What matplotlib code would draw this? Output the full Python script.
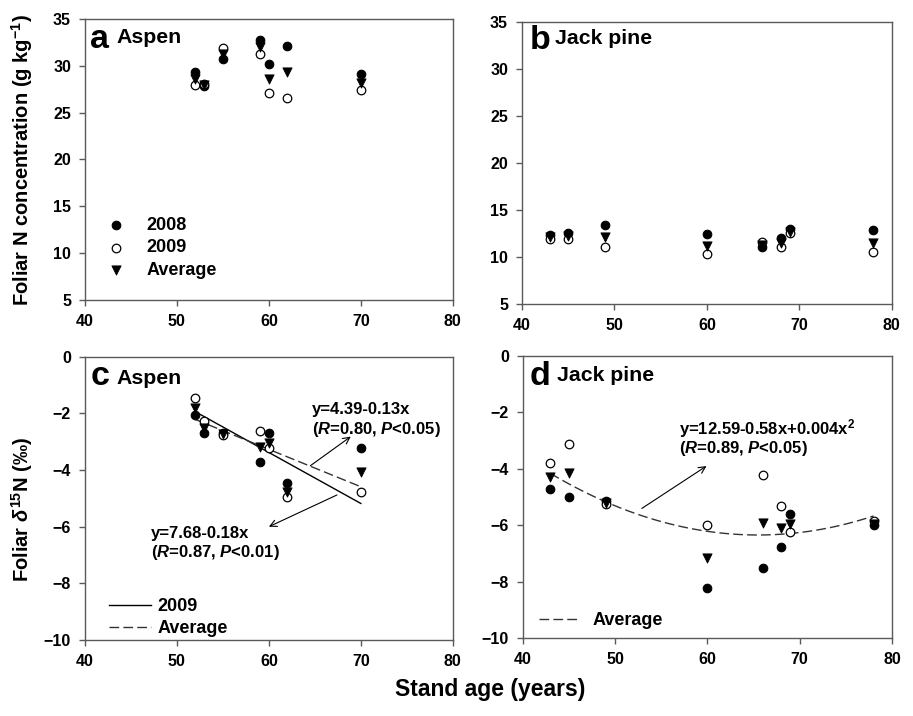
import matplotlib
matplotlib.use('Agg')
import matplotlib.pyplot as plt
import numpy as np

plt.rcParams['font.family'] = ['Liberation Sans', 'DejaVu Sans']
plt.rcParams['font.weight'] = 'bold'
plt.rcParams['mathtext.fontset'] = 'custom'
plt.rcParams['mathtext.rm'] = 'Liberation Sans:bold'
plt.rcParams['mathtext.bf'] = 'Liberation Sans:bold'
plt.rcParams['mathtext.it'] = 'Liberation Sans:italic:bold'

# ---------------- data ----------------
aspen_age = [52, 53, 55, 59, 60, 62, 70]
aspen_N_2008 = [29.3, 27.8, 30.7, 32.8, 30.2, 32.1, 29.1]
aspen_N_2009 = [27.9, 28.1, 31.9, 31.3, 27.1, 26.6, 27.4]
aspen_N_avg = [28.6, 27.9, 31.3, 32.0, 28.6, 29.3, 28.2]

pine_age = [43, 45, 49, 60, 66, 68, 69, 78]
pine_N_2008 = [12.3, 12.5, 13.4, 12.4, 11.1, 12.0, 13.0, 12.9]
pine_N_2009 = [11.9, 11.9, 11.1, 10.3, 11.6, 11.1, 12.5, 10.5]
pine_N_avg = [12.1, 12.2, 12.1, 11.2, 11.3, 11.5, 12.7, 11.5]

aspen_d15N_2008 = [-2.06, -2.70, -2.70, -3.70, -2.70, -4.45, -3.23]
aspen_d15N_2009 = [-1.45, -2.27, -2.75, -2.61, -3.23, -4.96, -4.76]
aspen_d15N_avg = [-1.82, -2.53, -2.74, -3.20, -3.03, -4.76, -4.06]

pine_d15N_2008 = [-4.72, -5.02, -5.16, -8.24, -7.51, -6.77, -5.60, -6.01]
pine_d15N_2009 = [-3.79, -3.14, -5.25, -5.99, -4.23, -5.34, -6.26, -5.86]
pine_d15N_avg = [-4.29, -4.14, -5.20, -7.18, -5.91, -6.11, -5.97, -5.95]

# fitted curves (as drawn): intercept, slope, [quadratic]
aspen_fit_2009 = [7.42, -0.18]
aspen_fit_avg = [4.65, -0.132]
pine_fit_avg = [12.14, -0.5646, 0.00431]

eq_aspen_avg = ['y=4.39-0.13x', '($R$=0.80, $P$<0.05)']
eq_aspen_2009 = ['y=7.68-0.18x', '($R$=0.87, $P$<0.01)']
eq_pine_avg = ['y=12.59-0.58x+0.004x$^{2}$', '($R$=0.89, $P$<0.05)']

xticks = [40, 50, 60, 70, 80]
yticks_N = [5, 10, 15, 20, 25, 30, 35]
yticks_d = [-10, -8, -6, -4, -2, 0]

# ---------------- figure ----------------
fig = plt.figure(figsize=(9.13, 7.16), dpi=100)
ax_a = fig.add_axes([0.093, 0.581, 0.403, 0.3925])
ax_b = fig.add_axes([0.5717, 0.5754, 0.405, 0.3943])
ax_c = fig.add_axes([0.093, 0.1061, 0.403, 0.3957])
ax_d = fig.add_axes([0.5725, 0.1089, 0.4045, 0.3943])

spine_col = '#5a5a5a'
ms = 38

def style(ax, yticks, ylim):
    ax.set_xlim(40, 80)
    ax.set_ylim(*ylim)
    ax.set_xticks(xticks)
    ax.set_yticks(yticks)
    for s in ax.spines.values():
        s.set_color(spine_col)
        s.set_linewidth(1.0)
    ax.tick_params(direction='out', length=4, width=1.0, color=spine_col,
                   labelsize=11.5, pad=6)
    for lab in ax.get_xticklabels() + ax.get_yticklabels():
        lab.set_fontweight('bold')

def points(ax, x, y8, y9, ya):
    ax.scatter(x, y8, s=ms, marker='o', c='black', edgecolors='black',
               linewidths=0.8, zorder=3, label='2008')
    ax.scatter(x, y9, s=ms, marker='o', c='white', edgecolors='black',
               linewidths=0.9, zorder=4, label='2009')
    ax.scatter(x, ya, s=ms + 6, marker='v', c='black', edgecolors='black',
               linewidths=0.6, zorder=5, label='Average')

for ax in (ax_a, ax_b):
    style(ax, yticks_N, (5, 35))
for ax in (ax_c, ax_d):
    style(ax, yticks_d, (-10, 0))

points(ax_a, aspen_age, aspen_N_2008, aspen_N_2009, aspen_N_avg)
points(ax_b, pine_age, pine_N_2008, pine_N_2009, pine_N_avg)
points(ax_c, aspen_age, aspen_d15N_2008, aspen_d15N_2009, aspen_d15N_avg)
points(ax_d, pine_age, pine_d15N_2008, pine_d15N_2009, pine_d15N_avg)

leg = ax_a.legend(loc='lower left', bbox_to_anchor=(0.015, 0.05), frameon=False,
                  fontsize=13, handletextpad=0.7, labelspacing=0.3,
                  scatterpoints=1, borderaxespad=0)
for t in leg.get_texts():
    t.set_fontweight('bold')

# fitted lines
xa = np.linspace(min(aspen_age), max(aspen_age), 50)
l1, = ax_c.plot(xa, aspen_fit_2009[0] + aspen_fit_2009[1] * xa, color='black',
                lw=1.0, zorder=2, label='2009')
l2, = ax_c.plot(xa, aspen_fit_avg[0] + aspen_fit_avg[1] * xa, color='#333333',
                lw=1.0, dashes=(7, 3), zorder=2, label='Average')
legc = ax_c.legend(handles=[l1, l2], loc='lower left', bbox_to_anchor=(0.045, -0.015),
                   frameon=False, fontsize=13, handlelength=2.35, handletextpad=0.35,
                   labelspacing=0.28, borderaxespad=0)
for t in legc.get_texts():
    t.set_fontweight('bold')

xp = np.linspace(min(pine_age), max(pine_age), 100)
l3, = ax_d.plot(xp, pine_fit_avg[0] + pine_fit_avg[1] * xp + pine_fit_avg[2] * xp ** 2,
                color='#333333', lw=1.0, dashes=(7, 3), zorder=2, label='Average')
legd = ax_d.legend(handles=[l3], loc='lower left', bbox_to_anchor=(0.024, 0.006),
                   frameon=False, fontsize=13, handlelength=2.17, handletextpad=0.8,
                   borderaxespad=0)
for t in legd.get_texts():
    t.set_fontweight('bold')

# annotations
arr = dict(arrowstyle='->', color='black', lw=0.8, shrinkA=0, shrinkB=0,
           mutation_scale=12)
fs_eq = 12
ax_c.annotate('', xy=(68.9, -2.82), xytext=(64.5, -3.85), arrowprops=arr)
ax_c.annotate('', xy=(60.0, -6.0), xytext=(67.4, -4.88), arrowprops=arr)
ax_c.text(64.7, -1.88, eq_aspen_avg[0], fontsize=fs_eq, fontweight='bold', va='center')
ax_c.text(64.7, -2.56, eq_aspen_avg[1], fontsize=fs_eq, fontweight='bold', va='center')
ax_c.text(47.2, -6.23, eq_aspen_2009[0], fontsize=fs_eq, fontweight='bold', va='center')
ax_c.text(47.2, -6.90, eq_aspen_2009[1], fontsize=fs_eq, fontweight='bold', va='center')

ax_d.annotate('', xy=(59.9, -3.91), xytext=(52.9, -5.41), arrowprops=arr)
ax_d.text(56.9, -2.57, eq_pine_avg[0], fontsize=fs_eq, fontweight='bold', va='center')
ax_d.text(56.9, -3.28, eq_pine_avg[1], fontsize=fs_eq, fontweight='bold', va='center')

# panel labels
def plabel(ax, letter, name, lx, ly, nx, ny):
    ax.text(lx, ly, letter, transform=ax.transAxes, fontsize=24.5, fontweight='bold',
            va='baseline', ha='left')
    ax.text(nx, ny, name, transform=ax.transAxes, fontsize=15.3, fontweight='bold',
            va='baseline', ha='left')

plabel(ax_a, 'a', 'Aspen', 0.013, 0.896, 0.086, 0.913)
plabel(ax_b, 'b', 'Jack pine', 0.022, 0.902, 0.089, 0.921)
plabel(ax_c, 'c', 'Aspen', 0.016, 0.900, 0.086, 0.904)
plabel(ax_d, 'd', 'Jack pine', 0.020, 0.896, 0.094, 0.911)

# axis titles
fig.text(0.024, 0.777, 'Foliar N concentration (g kg$^{-1}$)', rotation=90,
         ha='center', va='center', fontsize=14.5, fontweight='bold')
fig.text(0.024, 0.288, r'Foliar $\mathit{\delta}^{15}$N (‰)', rotation=90,
         ha='center', va='center', fontsize=14.5, fontweight='bold')
fig.text(0.537, 0.037, 'Stand age (years)', ha='center', va='center',
         fontsize=16.5, fontweight='bold')

fig.savefig('out.png', dpi=100)
